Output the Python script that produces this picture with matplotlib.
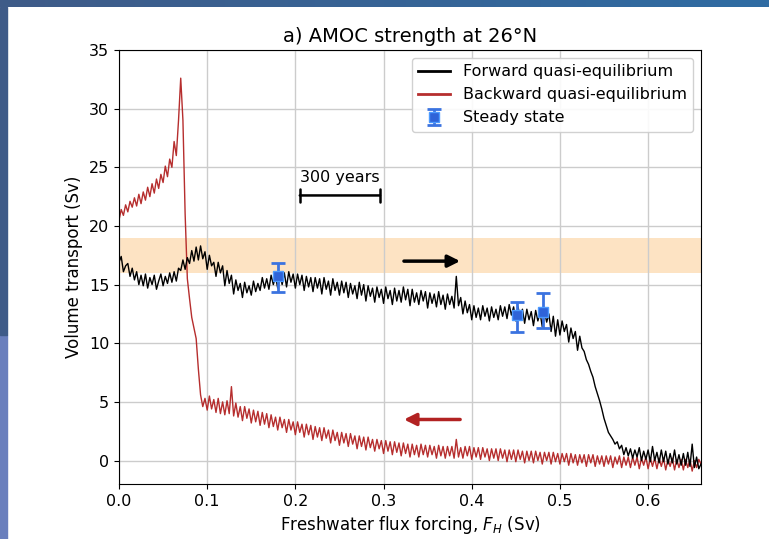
import numpy as np
import matplotlib
matplotlib.use("Agg")
import matplotlib.pyplot as plt
from matplotlib.patches import Rectangle

# Freshwater forcing grid (Sv), shared by both branches, step 0.0025
forcing = np.linspace(0.0, 0.66, 265)

# Forward quasi-equilibrium AMOC strength (Sv)
forward = [
    16.9, 17.4, 16.1, 16.6, 16.8, 15.7, 16.4, 15.4, 16.1, 15.0, 15.8, 14.9,
    15.9, 14.7, 15.6, 15.0, 15.8, 14.6, 15.3, 15.9, 14.9, 15.7, 15.1, 16.0,
    15.2, 16.1, 15.3, 16.4, 16.2, 17.1, 16.3, 17.3, 16.8, 17.9, 17.0, 18.2,
    17.1, 18.3, 17.2, 17.8, 16.3, 17.5, 16.6, 16.9, 15.7, 16.9, 16.0, 16.6,
    14.9, 16.2, 15.1, 15.8, 14.2, 15.4, 14.5, 15.1, 13.9, 15.2, 14.3, 14.9,
    14.1, 15.3, 14.4, 15.1, 14.5, 15.6, 14.7, 15.5, 14.6, 15.8, 15.0, 15.7,
    14.7, 15.9, 15.0, 16.0, 14.8, 16.1, 15.2, 15.9, 14.7, 15.9, 15.0, 15.8,
    14.5, 15.7, 14.8, 15.6, 14.4, 15.6, 14.7, 15.5, 14.2, 15.6, 14.6, 15.3,
    14.1, 15.5, 14.5, 15.2, 14.1, 15.3, 14.3, 15.2, 13.9, 15.1, 14.2, 14.9,
    13.8, 15.2, 14.1, 15.0, 13.6, 14.9, 14.0, 14.7, 13.5, 14.8, 13.9, 14.6,
    13.4, 14.8, 13.8, 14.5, 13.3, 14.7, 13.6, 14.5, 13.5, 14.8, 13.7, 14.6,
    13.2, 14.6, 13.5, 14.3, 13.3, 14.5, 13.6, 14.4, 13.0, 14.3, 13.4, 14.2,
    13.1, 14.4, 13.3, 14.1, 12.9, 14.2, 13.3, 14.0, 13.0, 15.7, 13.2, 13.9,
    12.5, 13.6, 12.6, 13.3, 12.0, 13.2, 12.2, 13.0, 12.0, 13.2, 12.3, 13.0,
    11.9, 13.1, 12.2, 12.9, 12.0, 13.2, 12.3, 13.1, 12.1, 13.3, 12.4, 13.1,
    11.9, 13.1, 12.2, 12.9, 11.7, 12.9, 12.0, 12.7, 11.5, 12.8, 11.9, 12.6,
    11.4, 12.7, 11.8, 12.5, 11.0, 12.3, 10.6, 12.0, 10.7, 11.9, 11.0, 11.6,
    10.1, 11.3, 10.4, 11.0, 9.4, 10.6, 9.6, 9.3, 8.6, 8.2, 7.6, 7.1,
    6.3, 5.7, 5.1, 4.4, 3.6, 3.0, 2.4, 2.1, 1.8, 1.4, 1.6, 1.0,
    1.3, 0.5, 1.1, 0.4, 1.0, 0.2, 0.9, 0.3, 1.1, 0.0, 0.8, 0.1,
    0.9, -0.1, 1.2, 0.0, 0.7, -0.2, 0.9, -0.1, 0.8, -0.3, 0.6, -0.2,
    0.9, -0.3, 0.5, -0.4, 0.6, -0.4, 0.7, -0.5, 1.4, -0.6, 0.3, -0.7,
    -0.3,
]

# Backward quasi-equilibrium AMOC strength (Sv)
backward = [
    20.5, 21.4, 20.9, 21.8, 21.2, 22.1, 21.6, 22.4, 21.7, 22.7, 21.9, 22.9,
    22.2, 23.3, 22.5, 23.6, 22.8, 24.0, 23.2, 24.4, 23.7, 25.1, 24.2, 25.7,
    25.0, 27.2, 26.0, 29.0, 32.6, 29.0, 21.0, 15.5, 13.8, 12.2, 11.3, 10.4,
    7.8, 5.6, 4.6, 5.3, 4.3, 5.5, 4.4, 5.2, 4.1, 5.3, 4.0, 5.0,
    3.9, 5.1, 4.0, 6.3, 3.8, 4.9, 3.7, 4.6, 3.4, 4.6, 3.6, 4.4,
    3.2, 4.3, 3.3, 4.2, 3.0, 4.1, 3.1, 4.0, 2.8, 3.9, 2.9, 3.7,
    2.6, 3.7, 2.8, 3.5, 2.4, 3.5, 2.6, 3.3, 2.2, 3.3, 2.4, 3.1,
    2.0, 3.1, 2.2, 3.0, 1.8, 2.9, 2.0, 2.8, 1.7, 2.8, 1.9, 2.6,
    1.5, 2.6, 1.7, 2.4, 1.3, 2.4, 1.5, 2.3, 1.2, 2.3, 1.4, 2.1,
    1.0, 2.1, 1.2, 2.0, 0.9, 2.0, 1.1, 1.8, 0.8, 1.8, 1.0, 1.7,
    0.6, 1.7, 0.8, 1.6, 0.5, 1.6, 0.7, 1.5, 0.4, 1.5, 0.6, 1.4,
    0.3, 1.4, 0.5, 1.3, 0.3, 1.4, 0.5, 1.3, 0.3, 1.3, 0.5, 1.2,
    0.2, 1.3, 0.4, 1.2, 0.2, 1.2, 0.4, 1.2, 0.2, 1.8, 0.3, 1.1,
    0.2, 1.2, 0.4, 1.2, 0.1, 1.1, 0.3, 1.1, 0.1, 1.1, 0.3, 1.0,
    0.0, 1.0, 0.2, 1.0, 0.0, 1.0, 0.2, 0.9, -0.1, 0.9, 0.1, 0.9,
    -0.1, 0.9, 0.1, 0.8, -0.2, 0.8, 0.0, 0.8, -0.2, 0.8, 0.0, 0.7,
    -0.3, 0.7, 0.0, 0.7, -0.3, 0.7, -0.1, 0.6, -0.3, 0.6, -0.1, 0.6,
    -0.4, 0.6, -0.2, 0.5, -0.4, 0.5, -0.2, 0.5, -0.5, 0.5, -0.2, 0.5,
    -0.5, 0.4, -0.3, 0.4, -0.5, 0.4, -0.3, 0.4, -0.6, 0.3, -0.3, 0.4,
    -0.6, 0.3, -0.4, 0.3, -0.6, 0.3, -0.4, 0.3, -0.7, 0.2, -0.4, 0.3,
    -0.7, 0.2, -0.5, 0.2, -0.7, 0.2, -0.5, 0.2, -0.8, 0.1, -0.5, 0.2,
    -0.8, 0.1, -0.6, 0.1, -0.8, 0.1, -0.6, 0.1, -0.9, 0.0, -0.6, 0.1,
    -0.3,
]

# Steady states with asymmetric error bars
ss_forcing = [0.18, 0.451, 0.481]
ss_amoc = [15.7, 12.4, 12.7]
ss_err_low = [1.3, 1.4, 1.4]
ss_err_high = [1.1, 1.1, 1.6]

# Observed range band
obs_low, obs_high = 16.0, 19.0

fig = plt.figure(figsize=(7.69, 5.39), dpi=100)
fig.patch.set_facecolor("white")

# screenshot frame: dark strip on top and left
top = fig.add_axes([0, 1 - 7 / 539, 1, 7 / 539])
top.imshow(np.linspace(0, 1, 256).reshape(1, -1), aspect="auto",
           cmap=matplotlib.colors.LinearSegmentedColormap.from_list(
               "frame", ["#3f5b88", "#2f6ca3"]))
top.axis("off")
fig.patches.append(Rectangle((0, 0), 7 / 769, 1 - 335 / 539, transform=fig.transFigure,
                             color="#6a7fbd", zorder=0))
fig.patches.append(Rectangle((0, 1 - 335 / 539), 7 / 769, 335 / 539 - 7 / 539,
                             transform=fig.transFigure, color="#3f5b88", zorder=0))

ax = fig.add_axes([119 / 769, 1 - 484 / 539, 582 / 769, 434 / 539])

ax.axhspan(obs_low, obs_high, color="#fde3c3", zorder=0.5, lw=0)
ax.plot(forcing, forward, color="black", lw=1.0, label="Forward quasi-equilibrium", zorder=3)
ax.plot(forcing, backward, color="#b22222", lw=1.0, alpha=0.95,
        label="Backward quasi-equilibrium", zorder=2)
ax.errorbar(ss_forcing, ss_amoc, yerr=[ss_err_low, ss_err_high], fmt="s",
            color="#3b73e0", mfc="#2f63d8", mec="#4d9bff", ms=7, capsize=5,
            elinewidth=2, capthick=2, label="Steady state", zorder=4)

# direction arrows
ax.annotate("", xy=(0.39, 17.0), xytext=(0.32, 17.0),
            arrowprops=dict(arrowstyle="-|>", color="black", lw=2.5, mutation_scale=18))
ax.annotate("", xy=(0.32, 3.5), xytext=(0.39, 3.5),
            arrowprops=dict(arrowstyle="-|>", color="#b22222", lw=2.5, mutation_scale=18))

# 300-year scale bar
ax.annotate("", xy=(0.205, 22.6), xytext=(0.296, 22.6),
            arrowprops=dict(arrowstyle="|-|", color="black", lw=1.8, mutation_scale=5,
                            shrinkA=0, shrinkB=0))
ax.text(0.205, 23.5, "300 years", fontsize=11.5, ha="left", va="bottom")

ax.set_xlim(0, 0.66)
ax.set_ylim(-2, 35)
ax.set_xticks([0.0, 0.1, 0.2, 0.3, 0.4, 0.5, 0.6])
ax.set_yticks([0, 5, 10, 15, 20, 25, 30, 35])
ax.tick_params(labelsize=11.5)
ax.grid(True, color="#cccccc", lw=1)
ax.set_axisbelow(True)
ax.set_xlabel("Freshwater flux forcing, $F_H$ (Sv)", fontsize=12)
ax.set_ylabel("Volume transport (Sv)", fontsize=12)
ax.set_title("a) AMOC strength at 26°N", fontsize=14)
leg = ax.legend(loc="upper right", fontsize=11.5, framealpha=0.9)
for h in leg.legend_handles[:2]:
    h.set_linewidth(2)

fig.savefig("out.png", dpi=100)
